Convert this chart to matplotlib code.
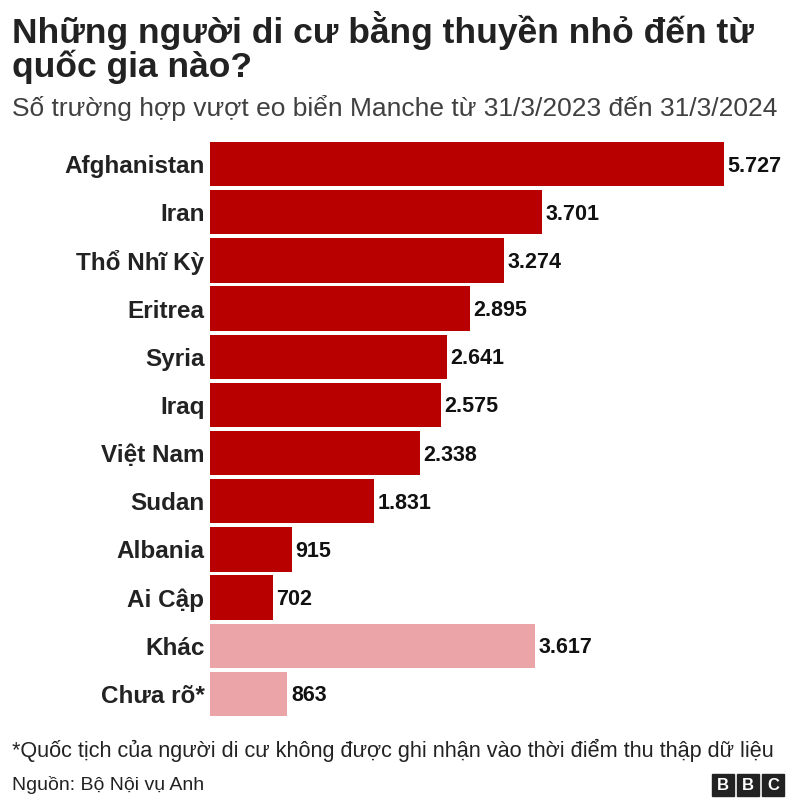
import matplotlib
matplotlib.use("Agg")
import matplotlib.pyplot as plt
from matplotlib.patches import Rectangle

plt.rcParams['font.family'] = ['Liberation Sans', 'DejaVu Sans']

countries = ["Afghanistan", "Iran", "Thổ Nhĩ Kỳ", "Eritrea", "Syria", "Iraq",
             "Việt Nam", "Sudan", "Albania", "Ai Cập", "Khác", "Chưa rõ*"]
values = [5727, 3701, 3274, 2895, 2641, 2575, 2338, 1831, 915, 702, 3617, 863]
dark, light = "#b80000", "#eba4a8"
colors = [dark] * 10 + [light] * 2

fig = plt.figure(figsize=(8, 8), dpi=100)
ax = fig.add_axes([210 / 800, 1 - 716 / 800, 514 / 800, 574 / 800])
y = list(range(len(countries)))
ax.barh(y, values, height=0.92, color=colors)
ax.set_xlim(0, 5727)
ax.set_ylim(11.5 - 0.04, -0.46)
ax.set_yticks(y)
ax.set_yticklabels(countries, fontsize=17.5, fontweight='bold', color='#222222')
ax.tick_params(axis='y', length=0, pad=4)
ax.set_xticks([])
for s in ax.spines.values():
    s.set_visible(False)
for yi, v in zip(y, values):
    ax.text(v + 40, yi + 0.04, f"{v:,}".replace(",", "."), va='center', ha='left',
            fontsize=15.5, fontweight='bold', color='#111111', clip_on=False)

fig.text(12 / 800, 1 - 30 / 800, "Những người di cư bằng thuyền nhỏ đến từ",
         fontsize=25.5, fontweight='bold', va='center', color='#222222')
fig.text(12 / 800, 1 - 67 / 800, "quốc gia nào?",
         fontsize=25.5, fontweight='bold', va='center', color='#222222')
fig.text(12 / 800, 1 - 108 / 800, "Số trường hợp vượt eo biển Manche từ 31/3/2023 đến 31/3/2024",
         fontsize=19, va='center', color='#404040')
fig.text(12 / 800, 1 - 750 / 800,
         "*Quốc tịch của người di cư không được ghi nhận vào thời điểm thu thập dữ liệu",
         fontsize=15.6, va='center', color='#222222')
fig.text(12 / 800, 1 - 785 / 800, "Nguồn: Bộ Nội vụ Anh",
         fontsize=14, va='center', color='#222222')
for i, ch in enumerate("BBC"):
    x0 = (712 + i * 25) / 800
    fig.add_artist(Rectangle((x0, 1 - 796 / 800), 22 / 800, 22 / 800, color='#222222'))
    fig.text(x0 + 11 / 800, 1 - 785 / 800, ch, color='white', fontsize=12,
             fontweight='bold', ha='center', va='center')

fig.savefig("out.png", dpi=100, facecolor='white')
